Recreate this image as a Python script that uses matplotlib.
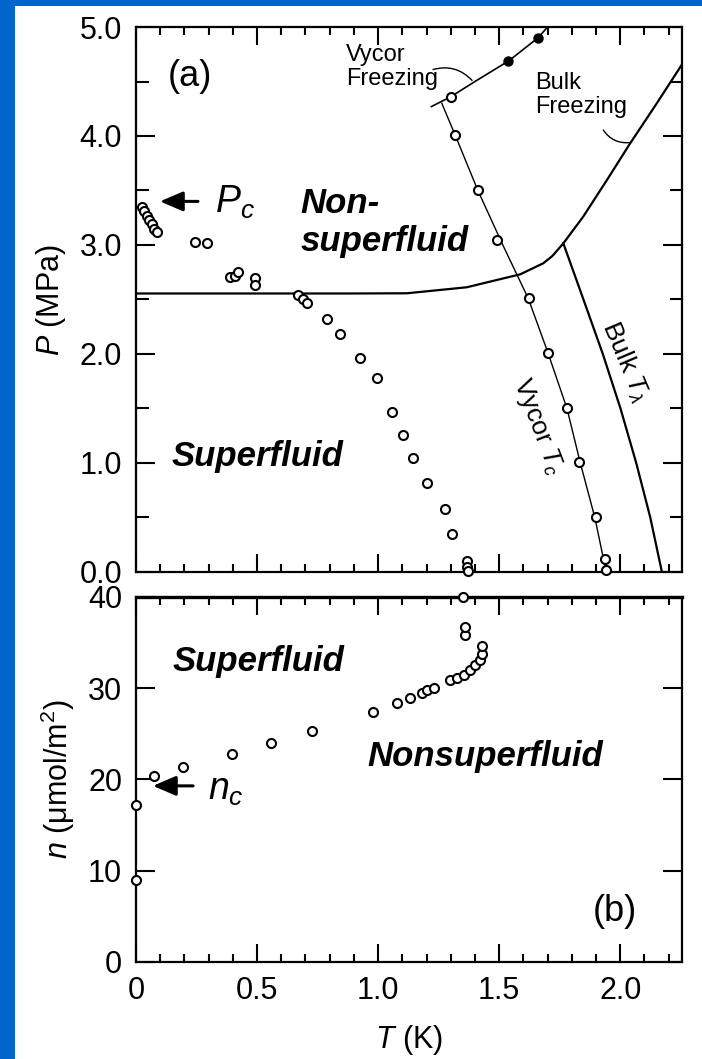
import numpy as np
import matplotlib
matplotlib.use('Agg')
import matplotlib.pyplot as plt
from matplotlib.ticker import MultipleLocator

plt.rcParams['font.family'] = ['Liberation Sans', 'DejaVu Sans']
plt.rcParams['mathtext.fontset'] = 'custom'
plt.rcParams['mathtext.rm'] = 'Liberation Sans'
plt.rcParams['mathtext.it'] = 'Liberation Sans:italic'
plt.rcParams['mathtext.bf'] = 'Liberation Sans:bold'

# (a) onset of superfluidity in Vycor, P vs T
onset_T = [0.024, 0.035, 0.045, 0.055, 0.066, 0.076, 0.085, 0.244, 0.295,
           0.388, 0.409, 0.423, 0.492, 0.492, 0.671, 0.691, 0.705, 0.788, 0.843,
           0.926, 0.996, 1.058, 1.103, 1.145, 1.202, 1.277, 1.306,
           1.366, 1.368, 1.370]
onset_P = [3.35, 3.31, 3.27, 3.23, 3.19, 3.15, 3.12, 3.03, 3.02,
           2.71, 2.72, 2.75, 2.70, 2.63, 2.54, 2.50, 2.47, 2.32, 2.18,
           1.96, 1.78, 1.47, 1.26, 1.05, 0.82, 0.58, 0.35,
           0.10, 0.05, 0.01]

# Vycor Tc line and its points
vtc_T = [1.263, 1.318, 1.412, 1.515, 1.62, 1.70, 1.78, 1.835, 1.895, 1.942]
vtc_P = [4.30, 4.01, 3.50, 3.00, 2.51, 2.02, 1.50, 1.00, 0.50, 0.0]
vtc_pts_T = [1.30, 1.318, 1.412, 1.49, 1.624, 1.70, 1.78, 1.83, 1.90, 1.935, 1.94]
vtc_pts_P = [4.36, 4.01, 3.50, 3.05, 2.51, 2.01, 1.50, 1.01, 0.50, 0.12, 0.02]

# freezing in Vycor
vfr_T = [1.22, 1.30, 1.40, 1.54, 1.66, 1.70]
vfr_P = [4.27, 4.36, 4.50, 4.69, 4.90, 5.00]
vfr_pts_T = [1.537, 1.66]
vfr_pts_P = [4.69, 4.90]

# bulk melting curve
melt_T = [0.0, 0.884, 1.119, 1.366, 1.587, 1.682, 1.72, 1.765, 1.847, 1.945, 2.041, 2.151, 2.253]
melt_P = [2.555, 2.555, 2.557, 2.612, 2.731, 2.832, 2.90, 3.015, 3.26, 3.596, 3.933, 4.30, 4.65]

# bulk lambda line
lam_T = [1.765, 1.848, 1.928, 2.001, 2.066, 2.124, 2.172]
lam_P = [3.015, 2.5, 2.0, 1.5, 1.0, 0.5, 0.0]

# (b) coverage at onset, n vs T
cov_T = [0.0, 0.0, 0.075, 0.194, 0.397, 0.558, 0.727, 0.979, 1.078, 1.13, 1.18,
         1.20, 1.229, 1.298, 1.325, 1.353, 1.38, 1.40, 1.419, 1.429, 1.429,
         1.36, 1.36, 1.351]
cov_n = [9.0, 17.2, 20.4, 21.4, 22.8, 24.0, 25.3, 27.4, 28.4, 28.9, 29.5,
         29.8, 30.0, 30.9, 31.1, 31.5, 32.0, 32.5, 33.1, 33.8, 34.6,
         35.8, 36.7, 40.0]

fig = plt.figure(figsize=(7.02, 10.59), dpi=100)
fig.patch.set_facecolor('#0066cc')
bg = fig.add_axes([15 / 702, 0, 1 - 15 / 702, 1 - 6 / 1059])
bg.set_facecolor('white')
bg.set_xticks([])
bg.set_yticks([])
for s in bg.spines.values():
    s.set_visible(False)

ax1 = fig.add_axes([0.1937, 0.4599, 0.7778, 0.5146])
ax2 = fig.add_axes([0.1937, 0.0916, 0.7778, 0.3447])

open_pt = dict(marker='o', ms=6.5, mfc='white', mec='black', mew=1.5, ls='none', zorder=4)

# panel (a)
ax1.plot(melt_T, melt_P, color='black', lw=1.6, zorder=2)
ax1.plot(lam_T, lam_P, color='black', lw=1.6, zorder=2)
ax1.plot(vtc_T, vtc_P, color='black', lw=1.0, zorder=2)
ax1.plot(vfr_T, vfr_P, color='black', lw=1.2, zorder=2)
ax1.plot(vfr_pts_T, vfr_pts_P, marker='o', ms=6.5, color='black', ls='none', zorder=4)
ax1.plot(vtc_pts_T, vtc_pts_P, clip_on=False, **open_pt)
ax1.plot(onset_T, onset_P, clip_on=False, **open_pt)

ax1.set_xlim(0, 2.255)
ax1.set_ylim(0, 5.0)
ax1.set_yticks([0, 1, 2, 3, 4, 5])
ax1.set_yticklabels(['0.0', '1.0', '2.0', '3.0', '4.0', '5.0'])
ax1.yaxis.set_minor_locator(MultipleLocator(0.5))
ax1.set_xticks([0, 0.5, 1.0, 1.5, 2.0])
ax1.xaxis.set_minor_locator(MultipleLocator(0.1))
ax1.tick_params(axis='x', labelbottom=False)
ax1.set_ylabel(r'$P$ (MPa)', fontsize=22)
ax1.yaxis.set_label_coords(-0.125, 0.5)

ax1.text(0.223, 4.55, '(a)', fontsize=26, ha='center', va='center')
ax1.text(0.868, 4.635, 'Vycor\nFreezing', fontsize=17, ha='left', va='center', linespacing=1.15)
ax1.text(1.649, 4.375, 'Bulk\nFreezing', fontsize=17, ha='left', va='center', linespacing=1.15)
ax1.annotate('', xy=(1.388, 4.51), xytext=(1.227, 4.61),
             arrowprops=dict(arrowstyle='-', lw=1.0, connectionstyle='arc3,rad=-0.3',
                             shrinkA=0, shrinkB=0))
ax1.annotate('', xy=(2.041, 3.94), xytext=(1.93, 4.055),
             arrowprops=dict(arrowstyle='-', lw=1.0, connectionstyle='arc3,rad=0.3',
                             shrinkA=0, shrinkB=0))
ax1.text(0.678, 3.21, 'Non-\nsuperfluid', fontsize=25, fontweight='bold', fontstyle='italic',
         ha='left', va='center', linespacing=1.2)
ax1.text(0.149, 1.055, 'Superfluid', fontsize=25, fontweight='bold', fontstyle='italic',
         ha='left', va='center')
ax1.text(1.66, 1.33, r'Vycor $T_c$', fontsize=19, rotation=-69, rotation_mode='anchor',
         ha='center', va='center')
ax1.text(2.02, 1.93, r'Bulk $T_\lambda$', fontsize=19, rotation=-67, rotation_mode='anchor',
         ha='center', va='center')
ax1.annotate('', xy=(0.099, 3.40), xytext=(0.256, 3.40),
             arrowprops=dict(arrowstyle='-|>,head_length=0.7,head_width=0.3', lw=2.2,
                             color='black', mutation_scale=20, shrinkA=0, shrinkB=0))
ax1.text(0.326, 3.39, r'$P_c$', fontsize=27, ha='left', va='center')

# panel (b)
ax2.plot(cov_T, cov_n, clip_on=False, **open_pt)
ax2.set_xlim(0, 2.255)
ax2.set_ylim(0, 40)
ax2.set_yticks([0, 10, 20, 30, 40])
ax2.set_xticks([0, 0.5, 1.0, 1.5, 2.0])
ax2.set_xticklabels(['0', '0.5', '1.0', '1.5', '2.0'])
ax2.xaxis.set_minor_locator(MultipleLocator(0.1))
ax2.set_xlabel(r'$T$ (K)', fontsize=22, labelpad=12)
ax2.set_ylabel(r'$n$ (μmol/m$^2$)', fontsize=22)
ax2.yaxis.set_label_coords(-0.108, 0.5)

ax2.text(0.153, 32.9, 'Superfluid', fontsize=25, fontweight='bold', fontstyle='italic',
         ha='left', va='center')
ax2.text(0.955, 22.5, 'Nonsuperfluid', fontsize=25, fontweight='bold', fontstyle='italic',
         ha='left', va='center')
ax2.text(1.979, 5.5, '(b)', fontsize=26, ha='center', va='center')
ax2.annotate('', xy=(0.07, 19.3), xytext=(0.236, 19.3),
             arrowprops=dict(arrowstyle='-|>,head_length=0.7,head_width=0.3', lw=2.2,
                             color='black', mutation_scale=20, shrinkA=0, shrinkB=0))
ax2.text(0.298, 18.8, r'$n_c$', fontsize=27, ha='left', va='center')

for ax in (ax1, ax2):
    for s in ax.spines.values():
        s.set_linewidth(1.6)
    ax.tick_params(axis='both', which='both', direction='in', top=True, right=True,
                   width=1.5, color='black')
    ax.tick_params(axis='both', which='major', labelsize=22, pad=10)
    ax.tick_params(axis='y', which='major', length=14)
    ax.tick_params(axis='y', which='minor', length=9)
    ax.tick_params(axis='x', which='major', length=13)
    ax.tick_params(axis='x', which='minor', length=6)
ax2.spines['top'].set_linewidth(2.4)

fig.savefig('out.png', dpi=100, facecolor=fig.get_facecolor())
